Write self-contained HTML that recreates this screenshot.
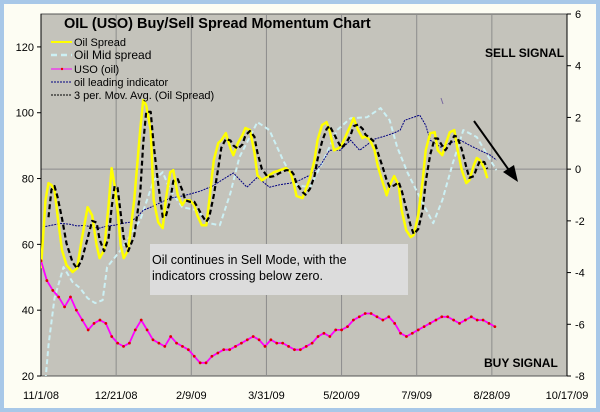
<!DOCTYPE html>
<html><head><meta charset="utf-8"><style>
html,body{margin:0;padding:0;background:#a8c8e8;}
svg{display:block;font-family:"Liberation Sans",sans-serif;}
</style></head><body>
<svg id="chart" width="600" height="412" viewBox="0 0 600 412">
<rect x="0" y="0" width="600" height="412" fill="#a8c8e8"/>
<rect x="4" y="4" width="592" height="404" fill="#fdfdf3"/>
<defs><clipPath id="clip"><rect x="41" y="14" width="526" height="362"/></clipPath></defs>
<rect x="41" y="14" width="526" height="362" fill="#c4c3bb" stroke="#555" stroke-width="1"/>
<g id="grid"></g>
<g id="axes"></g>
<g id="series" clip-path="url(#clip)"></g>
<text x="64" y="28" font-size="14.5" font-weight="bold" fill="#000">OIL (USO) Buy/Sell Spread Momentum Chart</text>
<g font-size="11" fill="#000">
<g><line x1="51" y1="42" x2="72" y2="42" stroke="#ffff00" stroke-width="2"/><text x="74" y="46">Oil Spread</text></g>
<g><line x1="51" y1="55" x2="72" y2="55" stroke="#ccf0f4" stroke-width="2.5" stroke-dasharray="6,4"/><text x="74" y="59" font-size="12">Oil Mid spread</text></g>
<g><line x1="51" y1="69" x2="72" y2="69" stroke="#ff00ff" stroke-width="1"/><circle cx="62" cy="69" r="1.2" fill="#e00"/><text x="74" y="73">USO (oil)</text></g>
<g><line x1="51" y1="82" x2="72" y2="82" stroke="#000080" stroke-width="1" stroke-dasharray="2,1"/><text x="74" y="86">oil leading indicator</text></g>
<g><line x1="51" y1="95" x2="72" y2="95" stroke="#000" stroke-width="1" stroke-dasharray="2,1"/><text x="74" y="99">3 per. Mov. Avg. (Oil Spread)</text></g>
</g>
<text x="485" y="57" font-size="12" font-weight="bold">SELL SIGNAL</text>
<text x="484" y="367" font-size="12" font-weight="bold">BUY SIGNAL</text>
<g>
<rect x="150" y="244" width="258" height="51" fill="#dcdcdc"/>
<text x="152" y="264" font-size="12.5">Oil continues in Sell Mode, with the</text>
<text x="152" y="280" font-size="12.5">indicators crossing below zero.</text>
</g>
<g>
<line x1="474" y1="121" x2="511" y2="173" stroke="#000" stroke-width="2"/>
<polygon points="518,182 503,172 514,165" fill="#000"/>
</g>
<line x1="441" y1="98" x2="443" y2="104" stroke="#7a6aa0" stroke-width="1"/>
</svg>
<script>
const leftTicks=[20,40,60,80,100,120];
const rightTicks=[-8,-6,-4,-2,0,2,4,6];
const dateLabels=["11/1/08","12/21/08","2/9/09","3/31/09","5/20/09","7/9/09","8/28/09","10/17/09"];
const spreadDays=[0,3,5,7,9,11,14,17,21,24,27,31,34,37,39,42,45,47,49,51,53,55,58,62,66,68,70,73,75,78,81,83,86,88,91,94,96,99,102,104,107,110,112,115,118,120,123,126,128,131,134,136,139,142,144,147,151,155,159,163,166,168,170,174,176,179,182,184,187,190,192,195,198,200,203,206,208,211,214,216,219,222,224,227,230,232,235,238,240,243,246,248,251,254,256,259,262,264,267,269,272,275,277,280,283,285,288,290,292,295,297];
const spreadVals=[-3.83,-1.2,-0.54,-0.62,-0.81,-1.78,-3.13,-3.71,-3.98,-3.83,-2.75,-1.47,-1.78,-2.94,-3.44,-3.13,-1.39,0.04,-0.62,-1.59,-2.94,-3.44,-3.13,-1.2,1.51,2.67,2.47,1.51,-1.2,-2.05,-2.28,-1.2,-0.12,-0.04,-1.01,-1.39,-1.2,-1.2,-1.39,-1.78,-2.17,-2.17,-1.2,0.35,1.01,1.12,1.39,0.81,0.54,1.01,1.31,1.59,1.51,0.66,-0.23,-0.43,-0.27,-0.12,-0.04,0.04,-0.12,-0.5,-1.04,-1.12,-0.81,-0.35,0.35,1.12,1.7,1.82,1.51,0.73,0.81,0.93,1.31,1.7,1.97,1.51,1.2,1.28,1.12,0.73,0.15,-0.43,-1.01,-0.62,-0.27,-0.62,-1.59,-2.36,-2.63,-2.55,-1.78,-0.43,0.73,1.39,1.43,0.73,0.54,0.93,1.43,1.51,0.81,-0.04,-0.54,-0.43,0.15,0.43,0.35,0.04,-0.35];
const midDays=[3,5,9,15,21,26,31,36,41,44,53,66,75,81,86,94,104,112,119,126,132,144,152,161,170,179,188,197,206,217,226,232,237,244,254,261,267,274,281,290,299,303];
const midVals=[-8.16,-6.81,-4.99,-3.79,-4.37,-4.6,-4.99,-5.18,-5.07,-3.79,-3.13,-1.97,-0.43,-0.12,-0.81,-1.47,-1.59,-2.09,-2.17,-0.93,0.46,1.82,1.51,0.35,-0.62,-0.7,0.35,1.51,1.97,2.01,2.36,1.89,0.85,-0.15,-1.31,-2.09,-1.2,0.23,1.51,1.24,0.35,-0.04];
const leadDays=[1,7,13,19,24,29,34,39,44,49,54,59,64,68,74,79,86,94,100,106,114,121,128,137,144,152,159,166,172,179,186,192,199,206,212,222,229,235,239,242,246,252,256,259,266,272,279,285,292,299,303];
const leadVals=[-2.24,-2.17,-2.1,-2.13,-2.2,-2.17,-2.25,-2.28,-2.2,-2.17,-2.1,-2.05,-1.85,-1.59,-1.45,-1.31,-1.12,-1.04,-0.95,-0.85,-0.66,-0.4,-0.15,-0.7,-0.31,-0.7,-0.6,-0.54,-0.43,-0.23,0.15,0.73,0.73,1.12,0.73,1.16,1.28,1.4,1.51,1.89,1.97,2.09,1.7,1.12,0.85,1.01,1.12,0.93,0.73,0.54,0.35];
const usoVals=[55,49,46,44,41,44,40,37,34,36,37,36,32,30,29,30,34,37,34,31,30,29,32,30,29,28,26,24,24,26,27,28,28,29,30,31,32,31,29,31,30,30,29,28,28,29,30,32,33,32,34,34,35,37,38,39,39,38,37,38,36,33,32,33,34,35,36,37,38,38,37,36,37,38,37,37,36,35];
const usoSpanDays=302;

const NS="http://www.w3.org/2000/svg";
const X0=41,X1=567,Y0=14,Y1=376,DAYS=350;
const xs=d=>X0+d*(X1-X0)/DAYS;
const yL=v=>Y1-(v-20)*(Y1-Y0)/110;
const yR=v=>Y1-(v+8)*(Y1-Y0)/14;
function mk(tag,attrs,parent){const e=document.createElementNS(NS,tag);for(const k in attrs)e.setAttribute(k,attrs[k]);parent.appendChild(e);return e;}
const grid=document.getElementById('grid'),axes=document.getElementById('axes'),ser=document.getElementById('series');

dateLabels.forEach((t,i)=>{
  const x=xs(i*50);
  if(i>0&&i<dateLabels.length-1){const g=mk('line',{x1:x,y1:Y0,x2:x,y2:Y1,stroke:'#8c8c8c','stroke-width':1},grid);
  
  }
  const tx=mk('text',{x:x,y:399,'font-size':11,'text-anchor':'middle',fill:'#000'},axes);tx.textContent=t;
  
  
});
const zl=mk('line',{x1:X0,y1:yR(0),x2:X1,y2:yR(0),stroke:'#8c8c8c','stroke-width':1},grid);


leftTicks.forEach(v=>{
  const y=yL(v);
  mk('line',{x1:X0-4,y1:y,x2:X0,y2:y,stroke:'#000'},axes);
  const t=mk('text',{x:X0-7,y:y+4,'font-size':11,'text-anchor':'end',fill:'#000'},axes);t.textContent=v;
  
  
});
rightTicks.forEach(v=>{
  const y=yR(v);
  mk('line',{x1:X1,y1:y,x2:X1+4,y2:y,stroke:'#000'},axes);
  const t=mk('text',{x:X1+8,y:y+4,'font-size':11,'text-anchor':'start',fill:'#000'},axes);t.textContent=v;
  
  
});
mk('line',{x1:X1,y1:Y0,x2:X1,y2:Y1,stroke:'#000'},axes);
mk('line',{x1:X0,y1:Y0,x2:X0,y2:Y1,stroke:'#000'},axes);

function pts(days,vals,yf){return days.map((d,i)=>xs(d).toFixed(1)+','+yf(vals[i]).toFixed(1)).join(' ');}

const mid=mk('polyline',{points:pts(midDays,midVals,yR),fill:'none',stroke:'#ccf0f4','stroke-width':2,'stroke-dasharray':'5,3','stroke-linejoin':'round'},ser);


const lead=mk('polyline',{points:pts(leadDays,leadVals,yR),fill:'none',stroke:'#000080','stroke-width':1,'stroke-dasharray':'2,1'},ser);


const sp=mk('polyline',{points:pts(spreadDays,spreadVals,yR),fill:'none',stroke:'#ffff00','stroke-width':2.5,'stroke-linejoin':'round'},ser);


const maD=[],maV=[];
for(let i=2;i<spreadVals.length;i++){maD.push(spreadDays[i]);maV.push((spreadVals[i]+spreadVals[i-1]+spreadVals[i-2])/3);}
const ma=mk('polyline',{points:pts(maD,maV,yR),fill:'none',stroke:'#000','stroke-width':2.2,'stroke-dasharray':'5,3','stroke-linejoin':'round'},ser);


const usoDays=usoVals.map((v,i)=>i*usoSpanDays/(usoVals.length-1));
const uso=mk('polyline',{points:pts(usoDays,usoVals,yL),fill:'none',stroke:'#ff00ff','stroke-width':1.8},ser);


usoVals.forEach((v,i)=>{
  const c=mk('circle',{cx:xs(usoDays[i]),cy:yL(v),r:1.4,fill:'#e00000'},ser);
  
  
});
</script>
</body></html>
